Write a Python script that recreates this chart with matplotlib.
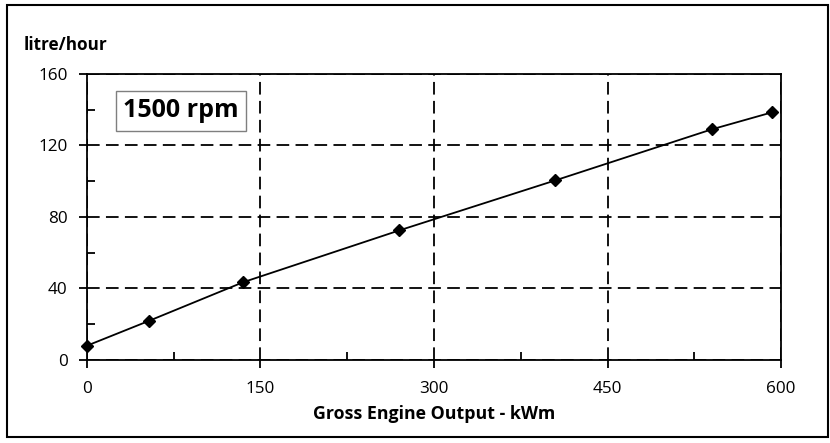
import matplotlib.pyplot as plt
from matplotlib.patches import Rectangle
from matplotlib.ticker import MultipleLocator

plt.rcParams["font.family"] = ["Open Sans", "DejaVu Sans"]

# data
output_kwm = [0, 54, 135, 270, 405, 540, 592]
fuel_lph   = [8, 22, 43.5, 72.5, 100.5, 129, 138.5]

x_ticks = [0, 150, 300, 450, 600]
y_ticks = [0, 40, 80, 120, 160]

fig = plt.figure(figsize=(8.30, 4.43), dpi=100)
ax = fig.add_axes([0.1048, 0.1874, 0.8362, 0.6456])

ax.plot(output_kwm, fuel_lph, color="black", linewidth=1.3,
        marker="D", markersize=6, markerfacecolor="black", zorder=3, clip_on=False)

ax.set_xlim(0, 600)
ax.set_ylim(0, 160)
ax.set_xticks(x_ticks)
ax.set_yticks(y_ticks)
ax.xaxis.set_minor_locator(MultipleLocator(75))
ax.yaxis.set_minor_locator(MultipleLocator(20))
ax.tick_params(which="major", direction="out", length=6, width=1.3, labelsize=12.3)
ax.tick_params(axis="x", pad=9)
ax.tick_params(axis="y", pad=8)
ax.tick_params(which="minor", direction="in", length=6, width=1.3)
for s in ax.spines.values():
    s.set_linewidth(1.3)

ax.grid(True, which="major", color="black", linestyle=(0, (7, 3.5)), linewidth=1.3)
ax.set_axisbelow(True)

ax.set_xlabel("Gross Engine Output - kWm", fontsize=12.8, fontweight="bold", labelpad=6)
fig.text(24 / 830, 1 - 45 / 443, "litre/hour", fontsize=12.3, fontweight="bold",
         ha="left", va="center")

ax.text(0.1354, 0.8706, "1500 rpm", transform=ax.transAxes, fontsize=18, fontweight="bold",
        ha="center", va="center",
        bbox=dict(boxstyle="square,pad=0.3", facecolor="white", edgecolor="#7f7f7f", linewidth=1))

fig.patches.append(Rectangle((7 / 830, 1 - 437 / 443), 821 / 830, 432 / 443,
                             transform=fig.transFigure, fill=False,
                             edgecolor="black", linewidth=1.5))

fig.savefig("out.png", dpi=100)
